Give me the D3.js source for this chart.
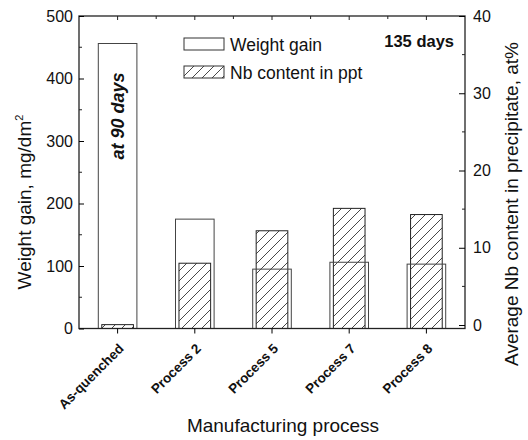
<!DOCTYPE html>
<html>
<head>
<meta charset="utf-8">
<script src="https://cdn.jsdelivr.net/npm/d3@7"></script>
<style>
  html, body { margin: 0; padding: 0; background: #fff; }
  svg { display: block; }
  text { font-family: "Liberation Sans", Arial, sans-serif; fill: #111; }
</style>
</head>
<body>
<svg id="chart" width="528" height="440"></svg>
<script>
const categories = ["As-quenched", "Process 2", "Process 5", "Process 7", "Process 8"];
const weightGain = [456, 175, 95, 106, 103];
const nbContent = [0.05, 8.0, 12.2, 15.1, 14.3];
const leftTicks = [0, 100, 200, 300, 400, 500];
const rightTicks = [0, 10, 20, 30, 40];

const svg = d3.select("#chart");
const L = 79, R = 465, T = 16, B = 328.5;

const x = d3.scaleBand().domain(categories).range([L, R]).padding(0);
const yL = d3.scaleLinear().domain([0, 500]).range([B, T]);
const yR = d3.scaleLinear().domain([-0.45, 40]).range([B, T]);

const defs = svg.append("defs");
const pat = defs.append("pattern").attr("id", "hatch").attr("patternUnits", "userSpaceOnUse")
  .attr("width", 10).attr("height", 10);
pat.append("rect").attr("width", 10).attr("height", 10).attr("fill", "#fff");
pat.append("path").attr("d", "M-2,2 L2,-2 M0,10 L10,0 M8,12 L12,8")
  .attr("stroke", "#333").attr("stroke-width", 0.9);

const bw = x.bandwidth();
const wgW = bw * 0.5, nbW = bw * 0.41;
const data = categories.map((c, i) => ({ c, wg: weightGain[i], nb: nbContent[i] }));

// weight gain fill (white)
svg.append("g").selectAll("rect").data(data).join("rect")
  .attr("x", d => x(d.c) + bw / 2 - wgW / 2)
  .attr("y", d => yL(d.wg))
  .attr("width", wgW)
  .attr("height", d => B - yL(d.wg))
  .attr("fill", "#fff");

// Nb hatched bars
svg.append("g").selectAll("rect").data(data).join("rect")
  .attr("x", d => x(d.c) + bw / 2 - nbW / 2)
  .attr("y", d => yR(d.nb))
  .attr("width", nbW)
  .attr("height", d => B - yR(d.nb))
  .attr("fill", "url(#hatch)")
  .attr("stroke", "#222").attr("stroke-width", 1);

// weight gain outline on top
svg.append("g").selectAll("rect").data(data).join("rect")
  .attr("x", d => x(d.c) + bw / 2 - wgW / 2)
  .attr("y", d => yL(d.wg))
  .attr("width", wgW)
  .attr("height", d => B - yL(d.wg))
  .attr("fill", "none")
  .attr("stroke", "#444").attr("stroke-width", 1);

// frame
svg.append("rect").attr("x", L).attr("y", T).attr("width", R - L).attr("height", B - T)
  .attr("fill", "none").attr("stroke", "#222").attr("stroke-width", 1.3);

// left axis
const gL = svg.append("g").attr("transform", `translate(${L},0)`)
  .call(d3.axisLeft(yL).tickValues(leftTicks).tickSizeInner(-5).tickSizeOuter(0).tickPadding(10));
gL.select(".domain").remove();
gL.selectAll("text").attr("font-size", 16).attr("x", -6);
gL.append("g").selectAll("line").data(d3.range(50, 500, 100)).join("line")
  .attr("x1", 0).attr("x2", 3).attr("y1", d => yL(d)).attr("y2", d => yL(d)).attr("stroke", "#222");

// right axis
const gR = svg.append("g").attr("transform", `translate(${R},0)`)
  .call(d3.axisRight(yR).tickValues(rightTicks).tickSizeInner(-6).tickSizeOuter(0));
gR.select(".domain").remove();
gR.selectAll("text").attr("font-size", 16).attr("x", 8);
gR.append("g").selectAll("line").data(d3.range(5, 40, 10)).join("line")
  .attr("x1", 0).attr("x2", -3).attr("y1", d => yR(d)).attr("y2", d => yR(d)).attr("stroke", "#222");

// bottom axis
const gB = svg.append("g").attr("transform", `translate(0,${B})`)
  .call(d3.axisBottom(x).tickSizeInner(5).tickSizeOuter(0));
gB.select(".domain").remove();
gB.selectAll("text")
  .attr("font-size", 13.5).attr("font-weight", "bold")
  .attr("text-anchor", "end")
  .attr("dy", 0).attr("y", 0)
  .attr("transform", "translate(7,21) rotate(-45)");

// top ticks
const gT = svg.append("g");
gT.selectAll("line.maj").data(categories).join("line").attr("class", "maj")
  .attr("x1", d => x(d) + bw / 2).attr("x2", d => x(d) + bw / 2)
  .attr("y1", T).attr("y2", T + 4).attr("stroke", "#222");
gT.selectAll("line.min").data(categories.slice(1)).join("line").attr("class", "min")
  .attr("x1", d => x(d)).attr("x2", d => x(d))
  .attr("y1", T).attr("y2", T + 3).attr("stroke", "#222");

// axis titles
svg.append("text").attr("transform", `translate(31,202) rotate(-90)`)
  .attr("text-anchor", "middle").attr("font-size", 19)
  .html('Weight gain, mg/dm<tspan dy="-8" font-size="11">2</tspan>');
svg.append("text").attr("transform", `translate(518,204) rotate(-90)`)
  .attr("text-anchor", "middle").attr("font-size", 19)
  .text("Average Nb content in precipitate, at%");
svg.append("text").attr("x", 283).attr("y", 432)
  .attr("text-anchor", "middle").attr("font-size", 19)
  .text("Manufacturing process");

// annotations
svg.append("text").attr("transform", `translate(${x(categories[0]) + bw / 2 + 6},116) rotate(-90)`)
  .attr("text-anchor", "middle").attr("font-size", 18).attr("font-weight", "bold").attr("font-style", "italic")
  .text("at 90 days");
svg.append("text").attr("x", 454).attr("y", 47).attr("text-anchor", "end")
  .attr("font-size", 16.5).attr("font-weight", "bold").text("135 days");

// legend
const lg = svg.append("g");
lg.append("rect").attr("x", 184).attr("y", 38).attr("width", 40).attr("height", 12)
  .attr("fill", "#fff").attr("stroke", "#333");
lg.append("text").attr("x", 230).attr("y", 51).attr("font-size", 17.5).text("Weight gain");
lg.append("rect").attr("x", 184).attr("y", 66).attr("width", 40).attr("height", 12)
  .attr("fill", "url(#hatch)").attr("stroke", "#333");
lg.append("text").attr("x", 230).attr("y", 79).attr("font-size", 17.5).text("Nb content in ppt");
</script>
</body>
</html>
